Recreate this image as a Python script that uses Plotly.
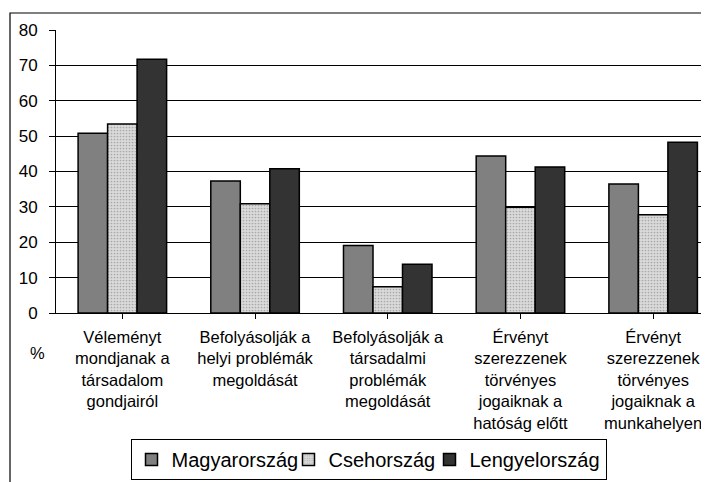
import plotly.graph_objects as go

kategoriak = [
    "Véleményt<br>mondjanak a<br>társadalom<br>gondjairól",
    "Befolyásolják a<br>helyi problémák<br>megoldását",
    "Befolyásolják a<br>társadalmi<br>problémák<br>megoldását",
    "Érvényt<br>szerezzenek<br>törvényes<br>jogaiknak a<br>hatóság előtt",
    "Érvényt<br>szerezzenek<br>törvényes<br>jogaiknak a<br>munkahelyen",
]
magyar = [50.8, 37.3, 19.1, 44.4, 36.5]
cseh = [53.4, 30.9, 7.4, 29.9, 27.8]
lengyel = [71.7, 40.8, 13.8, 41.3, 48.3]
y_ticks = [0, 10, 20, 30, 40, 50, 60, 70, 80]

FONT = "Arial, Liberation Sans, sans-serif"
# the page body has an 8px margin, so the figure is drawn 8px smaller
W, H = 701, 474
L, T = 48, 22
plot_w = W - L
plot_h = 283
B = H - T - plot_h
cat_px = 132.7


def px(x):
    # page pixel -> paper x
    return (x - 56) / plot_w


def py(y):
    # page pixel -> paper y
    return (313 - y) / plot_h


fig = go.Figure()
fig.add_bar(
    x=list(range(5)), y=magyar, name="Magyarország", legendwidth=112,
    marker={"color": "#808080", "line": {"color": "#000000", "width": 1.5}},
)
fig.add_bar(
    x=list(range(5)), y=cseh, name="Csehország", legendwidth=96,
    marker={
        "color": "#d4d4d4",
        "line": {"color": "#000000", "width": 1.5},
        "pattern": {"shape": ".", "size": 3, "solidity": 0.25,
                    "fgcolor": "#a8a8a8", "bgcolor": "#dadada", "fillmode": "replace"},
    },
)
fig.add_bar(
    x=list(range(5)), y=lengyel, name="Lengyelország",
    marker={"color": "#333333", "line": {"color": "#000000", "width": 1.5}},
)

fig.update_layout(
    width=W, height=H,
    margin={"l": L, "r": 0, "t": T, "b": B},
    paper_bgcolor="#ffffff", plot_bgcolor="#ffffff",
    font={"family": FONT, "color": "#000000", "size": 16},
    barmode="group", bargap=0.333, bargroupgap=0,
    showlegend=True,
    legend={
        "orientation": "h", "x": px(368.5), "xanchor": "center",
        "y": py(439), "yanchor": "top",
        "bordercolor": "#000000", "borderwidth": 1,
        "font": {"size": 20, "family": FONT},
        "itemwidth": 30, "tracegroupgap": 0,
    },
    xaxis={
        "range": [-0.5, -0.5 + plot_w / cat_px],
        "tickmode": "array", "tickvals": list(range(5)), "ticktext": kategoriak,
        "tickson": "boundaries", "ticks": "outside", "ticklen": 5, "tickcolor": "#000000",
        "showline": True, "linecolor": "#000000", "linewidth": 1,
        "showgrid": False, "zeroline": False,
        "tickfont": {"size": 16.5},
        "ticklabelstandoff": 4,
    },
    yaxis={
        "range": [0, 80], "tickvals": y_ticks,
        "ticks": "outside", "ticklen": 6, "tickcolor": "#000000",
        "showline": True, "linecolor": "#000000", "linewidth": 1,
        "showgrid": True, "gridcolor": "#000000", "gridwidth": 1,
        "zeroline": False,
        "tickfont": {"size": 17},
        "ticklabelstandoff": 8,
    },
    annotations=[{
        "text": "%", "xref": "paper", "yref": "paper",
        "x": px(37), "y": py(353), "xanchor": "center", "yanchor": "middle",
        "showarrow": False, "font": {"size": 16.5},
    }],
    shapes=[{
        "type": "rect", "xref": "paper", "yref": "paper",
        "x0": px(10), "x1": px(730),
        "y0": py(520), "y1": py(13),
        "line": {"color": "#000000", "width": 1.2},
        "fillcolor": "rgba(0,0,0,0)", "layer": "below",
    }],
)

fig.write_html("out.html")
